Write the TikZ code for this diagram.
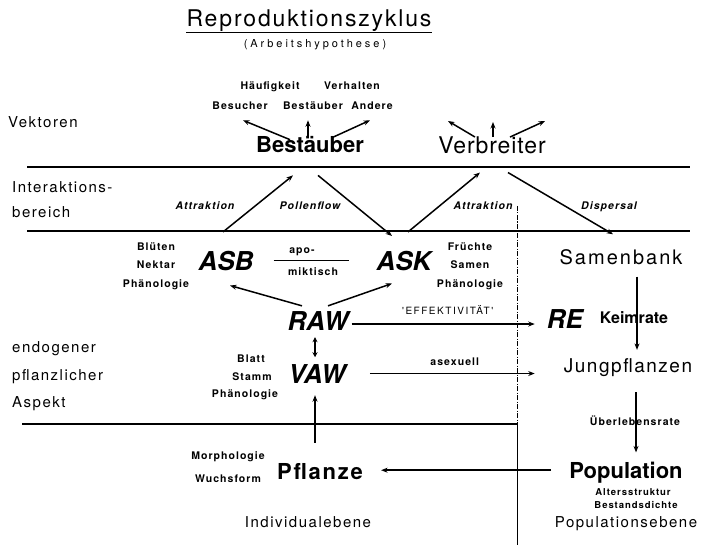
\documentclass[tikz,border=0pt]{standalone}
\usepackage{fontspec}
\setmainfont{TeX Gyre Heros}
\newfontfamily\spacedA[LetterSpace=4]{TeX Gyre Heros}
\newfontfamily\spacedB[LetterSpace=8]{TeX Gyre Heros}
\newfontfamily\spacedC[LetterSpace=10]{TeX Gyre Heros}
\newfontfamily\spacedD[LetterSpace=15]{TeX Gyre Heros}
\newfontfamily\spacedE[LetterSpace=27]{TeX Gyre Heros}
\usetikzlibrary{arrows.meta,positioning}

\begin{document}
\begin{tikzpicture}[
      x=1pt,y=-1pt,
      every node/.style={inner sep=0pt},
      mybig/.style={
         anchor=base,
         font=\bfseries\itshape\fontsize{26}{30}\selectfont},
      mybold/.style={
         anchor=base,
         font=\bfseries\fontsize{22}{26}\selectfont},
      mytext/.style={
         anchor=base,
         font=\spacedC\fontsize{15}{18}\selectfont},
      mysmall/.style={
         anchor=base,
         font=\spacedC\bfseries\fontsize{10.5}{12}\selectfont},
      myslant/.style={
         anchor=base,
         font=\spacedC\bfseries\itshape\fontsize{10.5}{12}\selectfont},
      myarrow/.style={-{Stealth[length=6.5pt,width=5pt]},line width=1.5pt},
      mydouble/.style={{Stealth[length=5pt,width=5pt]}-{Stealth[length=5pt,width=5pt]},line width=1.5pt},
      myline/.style={line width=1.2pt},
      myborder/.style={line width=0.8pt,dash pattern=on 5pt off 1.5pt on 1pt off 1.5pt}
      ]
\useasboundingbox (0,0) rectangle (703,545);

% title
\node[anchor=base,font=\spacedB\fontsize{23}{26}\selectfont] (title) at (309,27) {Reproduktionszyklus};
\draw[line width=1.3pt] (title.south west) -- (title.south east);
\node[anchor=base,font=\spacedE\fontsize{11}{13}\selectfont] (hypo) at (315,48) {(Arbeitshypothese)};

% left column
\node[mytext,anchor=base west] (vek)  at (8,128)  {Vektoren};
\node[mytext,anchor=base west] (int1) at (12,193) {Interaktions-};
\node[mytext,anchor=base west] (int2) at (12,218) {bereich};
\node[mytext,anchor=base west] (end1) at (12,352) {endogener};
\node[mytext,anchor=base west] (end2) at (12,380) {pflanzlicher};
\node[mytext,anchor=base west] (end3) at (12,407) {Aspekt};

% bands
\draw[myline] (27,167) -- (690,167);
\draw[myline] (27,231) -- (690,231);
\draw[myline] (22,424) -- (517,424);
\draw[myborder] (517,206) -- (517,424);
\draw[line width=0.8pt] (517,424) -- (517,545);

% vectors
\node[mysmall] (haeuf)    at (270,90)  {Häufigkeit};
\node[mysmall] (verh)     at (352,90)  {Verhalten};
\node[mysmall] (besucher) at (240,110) {Besucher};
\node[mysmall] (bestlab)  at (313,110) {Bestäuber};
\node[mysmall] (andere)   at (372,110) {Andere};
\node[mybold] (bst) at (310,153) {Bestäuber};
\node[anchor=base,font=\spacedA\fontsize{23}{26}\selectfont] (verb) at (492,154) {Verbreiter};
\coordinate (vl) at (448,121);
\coordinate (vm) at (493,122);
\coordinate (vr) at (545,121);

\draw[myarrow] ([xshift=-20pt,yshift=-3pt]bst.north) -- ([xshift=3pt,yshift=-10pt]besucher.south);
\draw[myarrow] ([xshift=-2pt,yshift=-1pt]bst.north)  -- ([xshift=-5pt,yshift=-10pt]bestlab.south);
\draw[myarrow] ([xshift=22pt,yshift=-1pt]bst.north)  -- ([xshift=-2pt,yshift=-10pt]andere.south);
\draw[myarrow] ([xshift=-17pt]verb.north) -- (vl);
\draw[myarrow] ([xshift=1pt]verb.north)   -- (vm);
\draw[myarrow] ([xshift=18pt]verb.north)  -- (vr);

% interaction
\node[myslant] (attr1) at (205,210) {Attraktion};
\node[myslant] (pollen) at (310,210) {Pollenflow};
\node[myslant] (attr2) at (483,210) {Attraktion};
\node[myslant] (disp) at (609,210) {Dispersal};

% reproductive level
\node[mybig] (asb) at (226,270) {ASB};
\node[mybig] (ask) at (404,270) {ASK};
\node[mybig] (raw) at (318,330) {RAW};
\node[mybig] (re)  at (565,328) {RE};
\node[mybig] (vaw) at (317,383) {VAW};
\node[anchor=base,font=\bfseries\fontsize{16}{19}\selectfont] (keim) at (634,323) {Keimrate};
\node[anchor=base,font=\spacedC\fontsize{20}{24}\selectfont] (samen) at (621,264) {Samenbank};
\node[anchor=base,font=\spacedB\fontsize{19}{23}\selectfont] (jung) at (628,372) {Jungpflanzen};

\foreach \t/\y in {Blüten/250,Nektar/268,Phänologie/287}
   \node[mysmall] (asbl-\y) at (156,\y) {\t};
\foreach \t/\y in {Früchte/250,Samen/268,Phänologie/287}
   \node[mysmall] (askl-\y) at (470,\y) {\t};
\foreach \t/\x/\y in {Blatt/251/362,Stamm/252/380,Phänologie/245/397}
   \node[mysmall] (vawl-\y) at (\x,\y) {\t};

\node[mysmall] (apo) at (302,253) {apo-};
\node[mysmall] (mik) at (313,275) {miktisch};
\draw[line width=1.4pt,shorten <=20pt,shorten >=27pt] (asb) -- (ask);

% plant and population
\node[anchor=base,font=\spacedB\bfseries\fontsize{22}{26}\selectfont] (pfl) at (320,479) {Pflanze};
\node[mybold] (pop) at (626,478) {Population};
\node[mysmall] (morph) at (228,459) {Morphologie};
\node[mysmall] (wuchs) at (228,482) {Wuchsform};
\node[mysmall] (ueber) at (635,425) {Überlebensrate};
\node[anchor=base,font=\spacedC\bfseries\fontsize{9.5}{11}\selectfont] (alter) at (633,495) {Altersstruktur};
\node[anchor=base,font=\spacedC\bfseries\fontsize{9.5}{11}\selectfont] (dichte) at (636,508) {Bestandsdichte};
\node[mytext] (indiv) at (308,527) {Individualebene};
\node[mytext] (popeb) at (626,527) {Populationsebene};

% connections
\draw[myarrow] ([xshift=-3pt,yshift=18.6pt]asb.north) -- ([xshift=-17pt,yshift=-22pt]bst.south);
\draw[myarrow] ([xshift=8pt,yshift=-22pt]bst.south) -- ([xshift=-12pt,yshift=14.6pt]ask.north);
\draw[myarrow] ([xshift=4pt,yshift=18.6pt]ask.north) -- ([xshift=-12pt,yshift=-18pt]verb.south);
\draw[myarrow] ([xshift=16pt,yshift=-18pt]verb.south) -- ([xshift=-8pt,yshift=14.6pt]samen.north);

\draw[myarrow] ([xshift=-16pt,yshift=5pt]raw.north) -- ([xshift=4pt,yshift=-15pt]asb.south);
\draw[myarrow] ([xshift=10pt,yshift=5pt]raw.north) -- ([xshift=-12pt,yshift=-13pt]ask.south);
\draw[myarrow,shorten <=3pt,shorten >=12pt] ([yshift=-3.5pt]raw.east) -- ([yshift=-3.5pt]raw.east -| re.west)
   node[midway,above=9pt,font=\spacedD\fontsize{10}{12}\selectfont] (eff) {'EFFEKTIVITÄT'};
\draw[mydouble,shorten <=7pt,shorten >=6.6pt] ([xshift=-3pt]raw.south) -- ([xshift=-2pt]vaw.north);
\draw[myarrow,shorten <=24pt,shorten >=29pt] (vaw.east) -- (vaw.east -| jung.west)
   node[midway,above=7pt,font=\spacedC\bfseries\fontsize{10.5}{12}\selectfont] (asex) {asexuell};

\draw[myarrow,shorten <=12pt,shorten >=8pt] ([xshift=16pt]samen.south) -- ([xshift=9pt]jung.north);
\draw[myarrow,shorten <=16pt,shorten >=9pt] ([xshift=8pt]jung.south) -- ([xshift=10pt]pop.north);
\draw[myarrow,shorten <=18pt,shorten >=18pt] ([yshift=2pt]pop.west) -- ([yshift=2pt]pop.west -| pfl.east);
\draw[myarrow,shorten <=20pt,shorten >=12pt] ([xshift=-5pt]pfl.north) -- ([xshift=-2pt]vaw.south);

\end{tikzpicture}
\end{document}
